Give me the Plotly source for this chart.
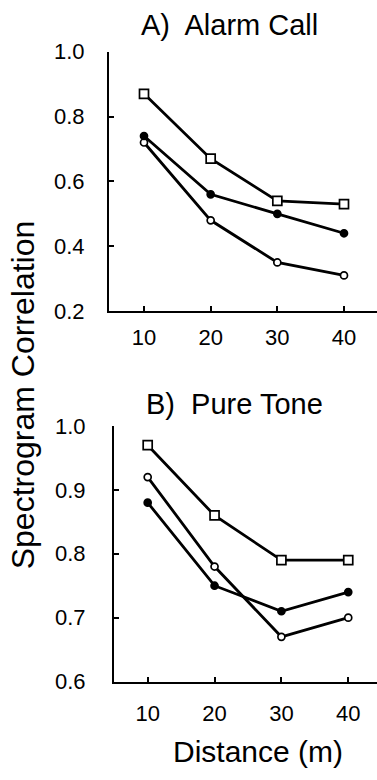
import plotly.graph_objects as go

distance = [10, 20, 30, 40]

# Panel A: Alarm Call
alarm_square = [0.87, 0.67, 0.54, 0.53]
alarm_filled = [0.74, 0.56, 0.50, 0.44]
alarm_open = [0.72, 0.48, 0.35, 0.31]

# Panel B: Pure Tone
tone_square = [0.97, 0.86, 0.79, 0.79]
tone_open = [0.92, 0.78, 0.67, 0.70]
tone_filled = [0.88, 0.75, 0.71, 0.74]

FONT = "Liberation Sans, Arial, Helvetica, sans-serif"

fig = go.Figure()

def add(x, y, symbol, filled, xa, ya, size):
    fig.add_trace(go.Scatter(
        x=x, y=y, mode="lines+markers", xaxis=xa, yaxis=ya,
        line=dict(color="black", width=2.8),
        marker=dict(symbol=symbol, size=size,
                    color="black" if filled else "white",
                    line=dict(color="black", width=1.7)),
        showlegend=False, cliponaxis=False))

add(distance, alarm_open, "circle", False, "x", "y", 7)
add(distance, alarm_filled, "circle", True, "x", "y", 7)
add(distance, alarm_square, "square", False, "x", "y", 9)
add(distance, tone_open, "circle", False, "x2", "y2", 7)
add(distance, tone_filled, "circle", True, "x2", "y2", 7)
add(distance, tone_square, "square", False, "x2", "y2", 9)

W, H = 377, 780
axis_common = dict(showgrid=False, zeroline=False, showline=True, linecolor="black",
                   linewidth=2, ticks="inside", ticklen=5, tickwidth=1.5,
                   tickcolor="black", tickfont=dict(family=FONT, size=22, color="black"))

def ann(text, x, y, size, angle=0):
    return dict(text=text, x=x / W, y=1 - y / H, xref="paper", yref="paper",
                xanchor="center", yanchor="middle", showarrow=False, textangle=angle,
                font=dict(family=FONT, size=size, color="black"))

fig.update_layout(
    width=W, height=H, margin=dict(l=0, r=0, t=0, b=0),
    paper_bgcolor="white", plot_bgcolor="white",
    xaxis=dict(domain=[109 / W, 1], range=[4.75, 44.95], anchor="y",
               tickvals=[10, 20, 30, 40], ticklabelstandoff=6, **axis_common),
    yaxis=dict(domain=[1 - 309 / H, 1 - 41 / H], range=[0.2, 1.0], anchor="x",
               tickvals=[0.2, 0.4, 0.6, 0.8, 1.0], tickformat=".1f",
               ticklabelstandoff=18, **axis_common),
    xaxis2=dict(domain=[114 / W, 1], range=[4.96, 44.3], anchor="y2",
                tickvals=[10, 20, 30, 40], ticklabelstandoff=11, **axis_common),
    yaxis2=dict(domain=[1 - 691.7 / H, 1 - 427.7 / H], range=[0.6, 1.0], anchor="x2",
                tickvals=[0.6, 0.7, 0.8, 0.9, 1.0], tickformat=".1f",
                ticklabelstandoff=22, **axis_common),
    annotations=[
        ann("A)  Alarm Call", 229, 13, 29),
        ann("B)  Pure Tone", 235, 405, 29),
        ann("Spectrogram Correlation", 23, 396, 32, -90),
        ann("Distance (m)", 258, 764, 30),
    ],
)

fig.write_html("out.html")
